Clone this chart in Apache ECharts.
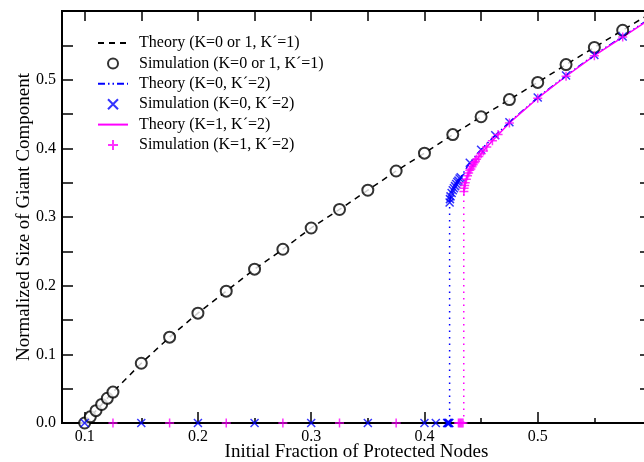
<!DOCTYPE html>
<html><head><meta charset="utf-8">
<script src="https://cdn.jsdelivr.net/npm/echarts@6/dist/echarts.min.js"></script>
<style>html,body{margin:0;padding:0;background:#fff}#c{width:644px;height:462px}</style>
</head><body><div id="c"></div>
<script>
// ---- data ----
const blackX = [0.1,0.105,0.11,0.115,0.12,0.125,0.15,0.175,0.2,0.225,0.25,0.275,0.3,0.325,0.35,0.375,0.4,0.425,0.45,0.475,0.5,0.525,0.55,0.575];
const blackSim = [0,0.009,0.018,0.027,0.036,0.045,0.087,0.125,0.16,0.192,0.224,0.253,0.284,0.311,0.339,0.367,0.393,0.42,0.446,0.471,0.496,0.522,0.547,0.572];
const blackTheoryX = [0.1,0.105,0.11,0.115,0.12,0.125,0.15,0.175,0.2,0.225,0.25,0.275,0.3,0.325,0.35,0.375,0.4,0.425,0.45,0.475,0.5,0.525,0.55,0.575,0.6];
const blackTheory = [0,0.009,0.018,0.027,0.036,0.045,0.087,0.125,0.16,0.192,0.224,0.253,0.284,0.311,0.339,0.367,0.393,0.42,0.446,0.471,0.496,0.522,0.547,0.572,0.597];

const blueTheoryX = [0.4222,0.423,0.425,0.428,0.432,0.44,0.45,0.46,0.475,0.5,0.525,0.55,0.575,0.6];
const blueTheory  = [0.321,0.330,0.339,0.348,0.358,0.379,0.398,0.415,0.438,0.474,0.506,0.536,0.563,0.590];
const blueJumpX = 0.4222, blueJumpTop = 0.321;
const blueSimX = [0.1,0.15,0.2,0.25,0.3,0.35,0.4,0.41,0.42,0.4205,0.421,0.4215,0.422,
                  0.4222,0.4225,0.423,0.424,0.425,0.426,0.427,0.428,0.429,0.43,0.431,0.432,0.44,0.45,0.4625,0.475,0.5,0.525,0.55,0.575];
const blueSim  = [0,0,0,0,0,0,0,0,0,0,0,0,0,
                  0.321,0.326,0.330,0.335,0.339,0.342,0.345,0.348,0.351,0.353,0.356,0.358,0.379,0.398,0.419,0.438,0.474,0.506,0.536,0.563];

const magTheoryX = [0.4347,0.436,0.438,0.44,0.445,0.45,0.455,0.46,0.475,0.5,0.525,0.55,0.575,0.6];
const magTheory  = [0.337,0.350,0.360,0.368,0.381,0.392,0.402,0.411,0.437,0.473,0.505,0.535,0.562,0.589];
const magJumpX = 0.4347, magJumpTop = 0.337;
const magSimX = [0.125,0.175,0.225,0.275,0.325,0.375,0.43,0.431,0.432,0.433,0.434,
                 0.4348,0.435,0.4355,0.436,0.437,0.438,0.439,0.44,0.441,0.442,0.443,0.444,0.445,0.446,0.448,0.45,0.452,0.455,0.46,0.465,0.475,0.5,0.525,0.55,0.575];
const magSim  = [0,0,0,0,0,0,0,0,0,0,0,
                 0.337,0.342,0.346,0.350,0.355,0.360,0.364,0.368,0.370,0.373,0.376,0.379,0.381,0.384,0.388,0.392,0.396,0.402,0.411,0.420,0.437,0.473,0.505,0.535,0.562];

const xLabels = [0.1,0.2,0.3,0.4,0.5];
const xMinor = [0.15,0.25,0.35,0.45,0.55];
const names = ['Theory (K=0 or 1, K\u00b4=1)','Simulation (K=0 or 1, K\u00b4=1)','Theory (K=0, K\u00b4=2)','Simulation (K=0, K\u00b4=2)','Theory (K=1, K\u00b4=2)','Simulation (K=1, K\u00b4=2)'];

const zip = (xs, ys) => xs.map((x,i)=>[x, ys[i]]);
const FONT = 'Liberation Serif';
const BLUE = '#0000ff', MAG = '#ff00ff';
const NOFILL = 'rgba(0,0,0,0)';

const chart = echarts.init(document.getElementById('c'), null, {renderer:'canvas'});
const commonX = {type:'value', min:0.08, max:0.6, splitLine:{show:false}};
chart.setOption({
  animation:false,
  backgroundColor:'#fff',
  grid:{left:62, top:11, right:-7, bottom:39, outerBoundsMode:'none', containLabel:false,
        show:true, borderColor:'#000', borderWidth:2, backgroundColor:'transparent'},
  legend:{
    orient:'vertical', left:92, top:30, itemWidth:30, itemHeight:10, itemGap:4.4,
    data:names.map((n,i)=> i%2===0 ? {name:n, itemStyle:{opacity:0}} : {name:n}),
    textStyle:{fontFamily:FONT, fontSize:16, color:'#000', lineHeight:16, padding:[0,0,0,6]},
    inactiveColor:'#000'
  },
  xAxis:[
    Object.assign({}, commonX, {position:'bottom', name:'Initial Fraction of Protected Nodes', nameLocation:'middle', nameGap:20,
      nameMoveOverlap:false,
      nameTextStyle:{fontFamily:FONT, fontSize:19, color:'#000'},
      axisLine:{show:true, onZero:false, lineStyle:{color:'#000', width:2}},
      axisTick:{show:true, inside:true, length:11, customValues:xLabels, lineStyle:{color:'#000', width:1.5}},
      axisLabel:{show:true, customValues:xLabels, formatter:v=>v.toFixed(1), fontFamily:FONT, fontSize:16, color:'#000', margin:6}}),
    Object.assign({}, commonX, {position:'bottom', axisLine:{show:false},
      axisTick:{show:true, inside:true, length:5, customValues:xMinor, lineStyle:{color:'#000', width:1.5}},
      axisLabel:{show:false}}),
    Object.assign({}, commonX, {position:'top', axisLine:{show:true, onZero:false, lineStyle:{color:'#000', width:2}},
      axisTick:{show:true, inside:true, length:10, customValues:[0.1,0.15,0.2,0.25,0.3,0.35,0.4,0.45,0.5,0.55], lineStyle:{color:'#000', width:1.5}},
      axisLabel:{show:false}})
  ],
  yAxis:[
    {type:'value', min:0, max:0.6, interval:0.05, position:'left', splitLine:{show:false},
     name:'Normalized Size of Giant Component', nameLocation:'middle', nameGap:28, nameMoveOverlap:false,
     nameTextStyle:{fontFamily:FONT, fontSize:19, color:'#000'},
     axisLine:{show:true, onZero:false, lineStyle:{color:'#000', width:2}},
     axisTick:{show:true, inside:true, length:11, lineStyle:{color:'#000', width:1.5}},
     axisLabel:{fontFamily:FONT, fontSize:16, color:'#000', margin:6,
       formatter:v=>{const k=Math.round(v*20); return (k%2===0 && k<12) ? (k/20).toFixed(1) : '';}}},
    {type:'value', min:0, max:0.6, interval:0.05, position:'right', splitLine:{show:false},
     axisLine:{show:true, onZero:false, lineStyle:{color:'#000', width:2}},
     axisTick:{show:true, inside:true, length:11, lineStyle:{color:'#000', width:1.5}},
     axisLabel:{show:false}}
  ],
  series:[
    {name:names[0], type:'line', data:zip(blackTheoryX, blackTheory), symbol:'none', z:3,
     lineStyle:{color:'#000', width:1.5, type:[6,5]}, itemStyle:{color:NOFILL, opacity:0}},
    {name:names[1], type:'scatter', data:zip(blackX, blackSim), symbol:'emptyCircle', symbolSize:11, z:4,
     itemStyle:{color:'#000', borderColor:'#000', borderWidth:1.5}},
    {name:'blueJump', type:'line', data:[[blueJumpX,0],[blueJumpX,blueJumpTop]], symbol:'none', z:3,
     lineStyle:{color:BLUE, width:1.5, type:[1.5,5]}},
    {name:names[2], type:'line', data:zip(blueTheoryX, blueTheory), symbol:'none', z:3,
     lineStyle:{color:BLUE, width:1.5, type:[7,3,1.5,3,1.5,3]}, itemStyle:{color:NOFILL, opacity:0}},
    {name:names[3], type:'scatter', data:zip(blueSimX, blueSim), symbol:'path://M0,0L10,10M10,0L0,10', symbolSize:8, z:5,
     itemStyle:{color:NOFILL, borderColor:BLUE, borderWidth:1.5}},
    {name:'magJump', type:'line', data:[[magJumpX,0],[magJumpX,magJumpTop]], symbol:'none', z:3,
     lineStyle:{color:MAG, width:1.5, type:[1.5,5]}},
    {name:names[4], type:'line', data:zip(magTheoryX, magTheory), symbol:'none', z:3,
     lineStyle:{color:MAG, width:1.5, type:'solid'}, itemStyle:{color:NOFILL, opacity:0}},
    {name:names[5], type:'scatter', data:zip(magSimX, magSim), symbol:'path://M5,0L5,10M0,5L10,5', symbolSize:9, z:5,
     itemStyle:{color:NOFILL, borderColor:MAG, borderWidth:1.5}}
  ]
});
</script></body></html>
